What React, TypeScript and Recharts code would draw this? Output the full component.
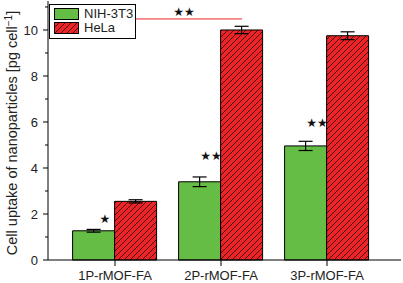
import React from 'react';
import { ComposedChart, Bar, XAxis, YAxis, ErrorBar, Scatter, ReferenceLine } from 'recharts';

const categories = ['1P-rMOF-FA', '2P-rMOF-FA', '3P-rMOF-FA'];
const nih3t3 = [1.27, 3.4, 4.96];
const nih3t3Err = [0.06, 0.21, 0.2];
const hela = [2.55, 10.0, 9.75];
const helaErr = [0.07, 0.16, 0.17];
const starMarks = ['★', '★★', '★★'];
const starY = [1.81, 4.55, 5.97];
const yMajorTicks = [0, 2, 4, 6, 8, 10];
const yAllTicks = [0, 1, 2, 3, 4, 5, 6, 7, 8, 9, 10, 11];
const yMax = 11.26;
const compareY = 10.48;
const compareMark = '★★';
const seriesNames = ['NIH-3T3', 'HeLa'];

const GREEN = '#66bd45';
const RED = '#ec2428';
const FONT = '"Liberation Sans", Arial, Helvetica, sans-serif';

const data = categories.map((c, i) => ({
  category: c,
  nih: nih3t3[i],
  nihErr: nih3t3Err[i],
  hela: hela[i],
  helaErr: helaErr[i],
  star: starMarks[i],
  starY: starY[i],
}));

const BAR_HALF = 21;

const YTick = (props: any) => {
  const { x, y, payload } = props;
  const v = payload.value;
  const major = yMajorTicks.includes(v);
  return (
    <g>
      <line x1={x - (major ? 5 : 3)} x2={x} y1={y} y2={y} stroke="#000" strokeWidth={1} />
      {major && (
        <text x={x - 10} y={y} dy="0.36em" textAnchor="end" fontSize={13} fill="#222">
          {v}
        </text>
      )}
    </g>
  );
};

const StarShape = (props: any) => {
  const { cx, cy, payload } = props;
  return (
    <text x={cx - 10} y={cy} dy="0.35em" textAnchor="middle" fontSize={12} fill="#111" fontFamily="DejaVu Sans">
      {payload.star}
    </text>
  );
};

const CompareLine = (props: any) => {
  const { x1, y1, x2, y2 } = props;
  const a = x1 + BAR_HALF;
  const b = x2 + BAR_HALF;
  return (
    <g>
      <line x1={a} x2={b} y1={y1} y2={y2} stroke={RED} strokeWidth={1} />
      <text x={(a + b) / 2 - 5} y={y1 - 3} textAnchor="middle" fontSize={12} fill="#111" fontFamily="DejaVu Sans">
        {compareMark}
      </text>
    </g>
  );
};

const Swatch = ({ kind }: { kind: 'green' | 'red' }) => (
  <svg width={25} height={12} style={{ display: 'block' }}>
    <defs>
      <pattern id="hatchLegend" width={6} height={6} patternUnits="userSpaceOnUse">
        <rect width={6} height={6} fill={RED} />
        <path d="M0,6 L6,0 M-1.5,1.5 L1.5,-1.5 M4.5,7.5 L7.5,4.5" stroke="#000" strokeWidth={0.7} />
      </pattern>
    </defs>
    <rect x={0.5} y={0.5} width={24} height={11} fill={kind === 'green' ? GREEN : 'url(#hatchLegend)'} stroke="#000" strokeWidth={1} />
  </svg>
);

const LegendBox = () => (
  <div
    style={{
      position: 'absolute',
      left: 49,
      top: 4,
      border: '1px solid #000',
      background: '#fff',
      width: 85,
      height: 33,
      boxSizing: 'content-box',
      fontFamily: FONT,
      fontSize: 13,
      color: '#222',
    }}
  >
    {seriesNames.map((n, i) => (
      <div key={n} style={{ position: 'absolute', left: 4, top: 3 + i * 14, display: 'flex', alignItems: 'center', height: 12 }}>
        <Swatch kind={i === 0 ? 'green' : 'red'} />
        <span style={{ marginLeft: 5, lineHeight: '12px' }}>{n}</span>
      </div>
    ))}
  </div>
);

const YTitle = () => (
  <text transform="translate(17,133) rotate(-90)" textAnchor="middle" fontSize={14.5} fill="#222" fontFamily={FONT}>
    Cell uptake of nanoparticles [pg cell
    <tspan dy={-5} fontSize={10}>−1</tspan>
    <tspan dy={5}>]</tspan>
  </text>
);

export default function App() {
  return (
    <div style={{ position: 'fixed', left: 0, top: 0, width: 403, height: 283, background: '#fff', fontFamily: FONT }}>
      <ComposedChart
        width={403}
        height={283}
        data={data}
        margin={{ top: 1, right: 2, bottom: 0, left: 0 }}
        barCategoryGap="10%"
        barGap={0}
      >
        <defs>
          <pattern id="hatchBar" width={6} height={6} patternUnits="userSpaceOnUse">
            <rect width={6} height={6} fill={RED} />
            <path d="M0,6 L6,0 M-1.5,1.5 L1.5,-1.5 M4.5,7.5 L7.5,4.5" stroke="#000" strokeWidth={0.7} />
          </pattern>
        </defs>
        <XAxis
          dataKey="category"
          height={23}
          padding={{ left: 14, right: 21 }}
          tickSize={6}
          tickMargin={5}
          axisLine={{ stroke: '#000' }}
          tickLine={{ stroke: '#000' }}
          tick={{ fontSize: 13, fill: '#222' }}
          interval={0}
        />
        <XAxis
          xAxisId="top"
          dataKey="category"
          orientation="top"
          height={0}
          padding={{ left: 14, right: 21 }}
          tick={false}
          tickLine={false}
          axisLine={{ stroke: '#777' }}
        />
        <YAxis
          width={48}
          domain={[0, yMax]}
          ticks={yAllTicks}
          interval={0}
          tickSize={0}
          tickMargin={0}
          tickLine={false}
          axisLine={{ stroke: '#000' }}
          tick={<YTick />}
          label={{ content: () => <YTitle /> }}
        />
        <YAxis
          yAxisId="right"
          orientation="right"
          width={0}
          domain={[0, yMax]}
          tick={false}
          tickLine={false}
          axisLine={{ stroke: '#444' }}
        />
        <Bar dataKey="nih" name={seriesNames[0]} fill={GREEN} stroke="#000" strokeWidth={1} isAnimationActive={false}>
          <ErrorBar dataKey="nihErr" width={7} stroke="#000" strokeWidth={1.2} />
        </Bar>
        <Bar dataKey="hela" name={seriesNames[1]} fill="url(#hatchBar)" stroke="#000" strokeWidth={1} isAnimationActive={false}>
          <ErrorBar dataKey="helaErr" width={7} stroke="#000" strokeWidth={1.2} />
        </Bar>
        <Scatter dataKey="starY" shape={<StarShape />} legendType="none" isAnimationActive={false} />
        <ReferenceLine
          segment={[
            { x: categories[0], y: compareY },
            { x: categories[1], y: compareY },
          ]}
          shape={<CompareLine />}
          ifOverflow="visible"
        />
      </ComposedChart>
      <LegendBox />
    </div>
  );
}
